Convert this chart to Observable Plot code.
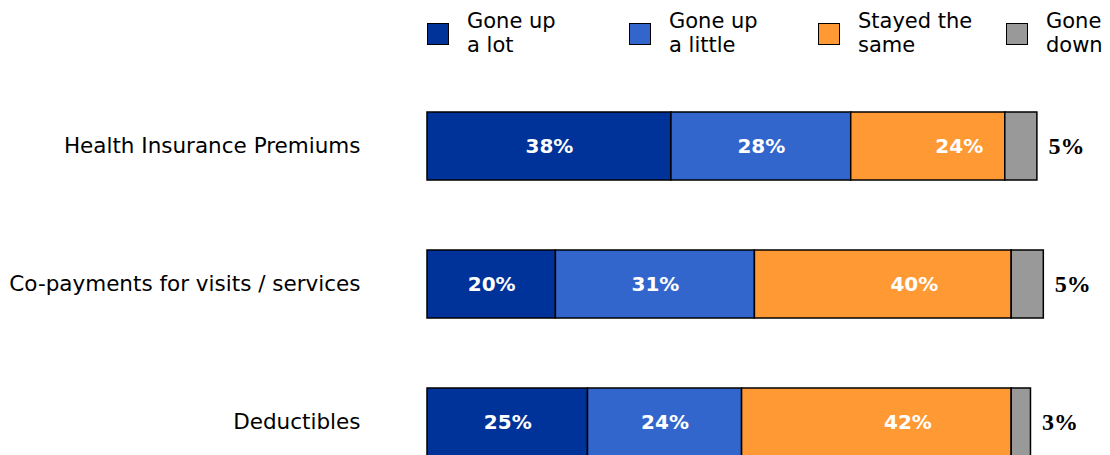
<!DOCTYPE html>
<html>
<head>
<meta charset="utf-8">
<script src="https://cdn.jsdelivr.net/npm/d3@7"></script>
<script src="https://cdn.jsdelivr.net/npm/@observablehq/plot@0.6"></script>
<style>
  html, body { margin: 0; padding: 0; background: #fff; overflow: hidden; width: 1110px; height: 455px; }
  #legend { position: relative; width: 1110px; height: 70px; overflow: hidden; font-family: "DejaVu Sans", Verdana, sans-serif; font-size: 21px; color: #000; }
  .sw { position: absolute; top: 23px; width: 20px; height: 20px; border: 1.5px solid #000; }
  .lt { position: absolute; top: 9px; line-height: 24px; white-space: nowrap; }
  #chart svg { display: block; }
</style>
</head>
<body>
<div id="legend"></div>
<div id="chart"></div>
<script>
const categories = ["Health Insurance Premiums", "Co-payments for visits / services", "Deductibles"];
const seriesNames = ["Gone up a lot", "Gone up a little", "Stayed the same", "Gone down"];
const legendLines = [["Gone up", "a lot"], ["Gone up", "a little"], ["Stayed the", "same"], ["Gone", "down"]];
const colors = ["#003399", "#3366CC", "#FF9933", "#999999"];
const goneUpALot = [38, 20, 25];
const goneUpALittle = [28, 31, 24];
const stayedTheSame = [24, 40, 42];
const goneDown = [5, 5, 3];

const seriesValues = [goneUpALot, goneUpALittle, stayedTheSame, goneDown];
const rows = [];
categories.forEach((c, i) => {
  seriesNames.forEach((s, j) => rows.push({category: c, series: s, value: seriesValues[j][i]}));
});
const totals = categories.map((c, i) => ({category: c, total: d3.sum(seriesValues, v => v[i]), label: goneDown[i] + "%"}));

// Legend (HTML above the SVG)
const legendX = [427, 629, 818, 1006];
const legend = document.getElementById("legend");
seriesNames.forEach((s, j) => {
  const sw = document.createElement("div");
  sw.className = "sw";
  sw.style.left = legendX[j] + "px";
  sw.style.background = colors[j];
  legend.appendChild(sw);
  const t = document.createElement("div");
  t.className = "lt";
  t.style.left = (legendX[j] + 40) + "px";
  t.innerHTML = legendLines[j][0] + "<br>" + legendLines[j][1];
  legend.appendChild(t);
});

const labelFont = "DejaVu Sans, Verdana, sans-serif";
const innerLabel = (keep, dx) => Plot.text(rows, Plot.stackX({
  x: "value", y: "category", z: "series",
  text: d => keep.includes(d.series) ? d.value + "%" : "",
  dx,
  fill: "#fff", fontWeight: "bold", fontSize: 20,
  fontFamily: labelFont
}));

const chart = Plot.plot({
  width: 1110,
  height: 385,
  marginLeft: 427,
  marginRight: 41,
  marginTop: 0,
  marginBottom: 0,
  style: {fontFamily: labelFont, fontSize: "21.5px", color: "#000", background: "#fff"},
  x: {domain: [0, 100], axis: null},
  y: {domain: categories, range: [28.2, 399.8], paddingInner: 0.5072, paddingOuter: 0.1, round: false, tickSize: 0, tickPadding: 67, label: null},
  color: {domain: seriesNames, range: colors},
  marks: [
    Plot.barX(rows, Plot.stackX({x: "value", y: "category", fill: "series", z: "series", stroke: "#000", strokeWidth: 1.5, inset: 0})),
    innerLabel(["Gone up a lot", "Gone up a little"], 0),
    innerLabel(["Stayed the same"], 31),
    Plot.text(totals, {x: "total", y: "category", text: "label", textAnchor: "start", dx: 11, fontSize: 24, fontWeight: "bold", fontFamily: "Liberation Serif, Times New Roman, serif", fill: "#000"})
  ]
});
document.getElementById("chart").appendChild(chart);
</script>
</body>
</html>
